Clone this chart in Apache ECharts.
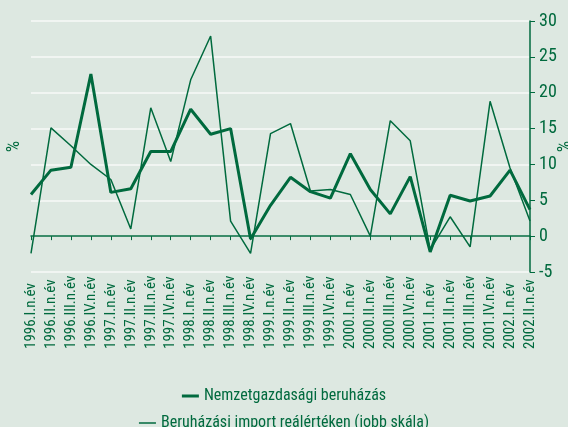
<!DOCTYPE html>
<html>
<head>
<meta charset="utf-8">
<style>
  html, body { margin: 0; padding: 0; background: #dde8e1; }
  #chart { width: 568px; height: 427px; }
</style>
<script src="https://cdn.jsdelivr.net/npm/echarts@6/dist/echarts.min.js"></script>
</head>
<body>
<div id="chart"></div>
<script>
// quarters
var categories = [
  '1996.I.n.év', '1996.II.n.év', '1996.III.n.év', '1996.IV.n.év',
  '1997.I.n.év', '1997.II.n.év', '1997.III.n.év', '1997.IV.n.év',
  '1998.I.n.év', '1998.II.n.év', '1998.III.n.év', '1998.IV.n.év',
  '1999.I.n.év', '1999.II.n.év', '1999.III.n.év', '1999.IV.n.év',
  '2000.I.n.év', '2000.II.n.év', '2000.III.n.év', '2000.IV.n.év',
  '2001.I.n.év', '2001.II.n.év', '2001.III.n.év', '2001.IV.n.év',
  '2002.I.n.év', '2002.II.n.év'
]
var beruhazas = [
  5.8, 9.2, 9.6, 22.6, 6.1, 6.6, 11.8, 11.8,
  17.7, 14.2, 15.0, -0.4, 4.3, 8.2, 6.2, 5.3,
  11.5, 6.5, 3.1, 8.3, -2.2, 5.7, 4.9, 5.6,
  9.2, 3.7
]
var importReal = [
  -2.4, 15.1, 12.6, 10.0, 7.9, 1.0, 17.9, 10.4,
  21.8, 27.9, 2.1, -2.4, 14.3, 15.7, 6.3, 6.5,
  5.8, 0.0, 16.1, 13.3, -1.9, 2.7, -1.5, 18.8,
  9.5, 2.1
]

var green = '#006a3e'
var font = '"Roboto Condensed", "DejaVu Sans Condensed", sans-serif'

var chart = echarts.init(document.getElementById('chart'))
chart.setOption({
  backgroundColor: '#dde8e1',
  animation: false,
  textStyle: { fontFamily: font, color: green },
  grid: { left: 31, right: 38, top: 21, bottom: 155, outerBoundsMode: 'none', containLabel: false },
  legend: [
    {
      data: ['Nemzetgazdasági beruházás'],
      top: 383, left: 'center',
      icon: 'rect', itemWidth: 17, itemHeight: 3, itemGap: 9,
      textStyle: { fontFamily: font, fontSize: 16, color: green }
    },
    {
      data: ['Beruházási import reálértéken (jobb skála)'],
      top: 410, left: 'center',
      icon: 'rect', itemWidth: 17, itemHeight: 1.5,
      textStyle: { fontFamily: font, fontSize: 16, color: green }
    }
  ],
  xAxis: {
    type: 'category',
    data: categories,
    boundaryGap: false,
    axisLine: { onZero: true, lineStyle: { color: green, width: 1.5 } },
    axisTick: { show: true, length: 4, lineStyle: { color: green } },
    axisLabel: {
      rotate: 90, interval: 0, margin: 77, align: 'left',
      padding: [0, 0, 7, 0],
      fontFamily: font, fontSize: 15, color: green
    },
    splitLine: { show: false }
  },
  yAxis: [
    {
      type: 'value', min: -5, max: 30, interval: 5, position: 'left',
      name: '%', nameLocation: 'middle', nameRotate: 90, nameGap: 8,
      nameMoveOverlap: false,
      nameTextStyle: { fontFamily: font, fontSize: 18, color: green },
      axisLine: { show: false }, axisTick: { show: false }, axisLabel: { show: false },
      splitLine: { show: true, lineStyle: { color: '#f7faf7', width: 1.5 } }
    },
    {
      type: 'value', min: -5, max: 30, interval: 5, position: 'right',
      name: '%', nameLocation: 'middle', nameRotate: 90, nameGap: 26,
      nameMoveOverlap: false,
      nameTextStyle: { fontFamily: font, fontSize: 18, color: green },
      axisLine: { show: true, lineStyle: { color: green, width: 1.5 } },
      axisTick: { show: true, length: 5, lineStyle: { color: green } },
      axisLabel: { margin: 9, fontFamily: font, fontSize: 18, color: green },
      splitLine: { show: false }
    }
  ],
  series: [
    {
      name: 'Nemzetgazdasági beruházás', type: 'line', yAxisIndex: 0,
      data: beruhazas, symbol: 'none',
      lineStyle: { color: green, width: 3 }, itemStyle: { color: green }, z: 3
    },
    {
      name: 'Beruházási import reálértéken (jobb skála)', type: 'line', yAxisIndex: 1,
      data: importReal, symbol: 'none',
      lineStyle: { color: green, width: 1.5 }, itemStyle: { color: green }, z: 2
    }
  ]
})
</script>
</body>
</html>
